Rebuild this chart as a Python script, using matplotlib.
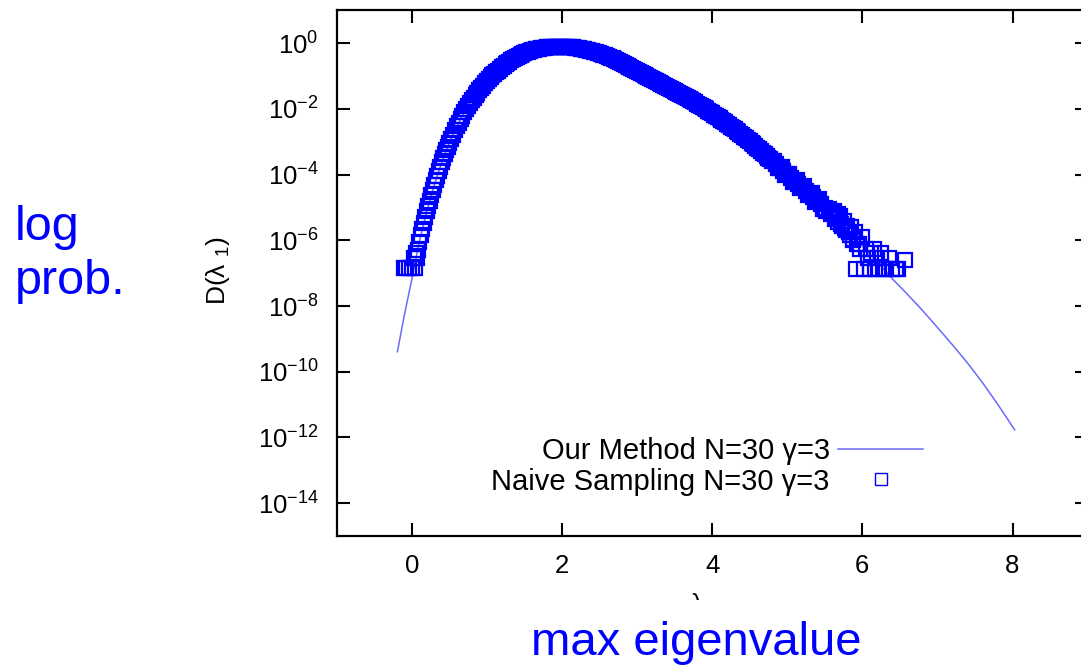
import numpy as np
import matplotlib
matplotlib.use('Agg')
import matplotlib.pyplot as plt
from matplotlib.transforms import Bbox

# "Our Method" curve: x and log10 of D(lambda_1)
method_x = [-0.19, -0.10, 0.00, 0.10, 0.20, 0.30, 0.40, 0.50, 0.60, 0.70, 0.80, 0.90,
            1.00, 1.10, 1.20, 1.30, 1.40, 1.50, 1.60, 1.70, 1.80, 1.90, 2.00, 2.20,
            2.40, 2.60, 2.80, 3.00, 3.20, 3.40, 3.60, 3.80, 4.00, 4.20, 4.40, 4.60,
            4.80, 5.00, 5.20, 5.40, 5.60, 5.80, 6.00, 6.20, 6.40, 6.60, 6.80, 7.00,
            7.20, 7.40, 7.60, 7.80, 8.03]
method_logd = [-9.39, -8.30, -7.20, -6.05, -5.12, -4.32, -3.63, -3.04, -2.53, -2.10, -1.74, -1.43,
               -1.16, -0.93, -0.73, -0.56, -0.42, -0.31, -0.22, -0.16, -0.12, -0.10, -0.10, -0.14,
               -0.24, -0.39, -0.60, -0.85, -1.10, -1.34, -1.58, -1.84, -2.13, -2.45, -2.80, -3.18,
               -3.58, -3.99, -4.39, -4.78, -5.22, -5.69, -6.17, -6.66, -7.17, -7.64, -8.13, -8.65,
               -9.18, -9.73, -10.33, -10.98, -11.77]

# "Naive Sampling" histogram points: x and log10 of D(lambda_1)
naive_x = [
    -0.10, -0.07, -0.03, 0.01, 0.05, 0.03, 0.07, 0.06, 0.08,
    0.10, 0.12, 0.14, 0.16, 0.18, 0.20, 0.22, 0.24, 0.26, 0.28, 0.30,
    0.32, 0.34, 0.36, 0.38, 0.40, 0.42, 0.44, 0.46, 0.48,
    0.500, 0.525, 0.550, 0.575, 0.600, 0.625, 0.650, 0.675, 0.700, 0.725,
    0.750, 0.775, 0.800, 0.825, 0.850, 0.875, 0.900, 0.925, 0.950, 0.975,
    1.000, 1.025, 1.050, 1.075, 1.100, 1.125, 1.150, 1.175, 1.200, 1.225,
    1.250, 1.275, 1.300, 1.325, 1.350, 1.375, 1.400, 1.425, 1.450, 1.475,
    1.500, 1.525, 1.550, 1.575, 1.600, 1.625, 1.650, 1.675, 1.700, 1.725,
    1.750, 1.775, 1.800, 1.825, 1.850, 1.875, 1.900, 1.925, 1.950, 1.975,
    2.000, 2.025, 2.050, 2.075, 2.100, 2.125, 2.150, 2.175, 2.200, 2.225,
    2.250, 2.275, 2.300, 2.325, 2.350, 2.375, 2.400, 2.425, 2.450, 2.475,
    2.500, 2.525, 2.550, 2.575, 2.600, 2.625, 2.650, 2.675, 2.700, 2.725,
    2.750, 2.775, 2.800, 2.825, 2.850, 2.875, 2.900, 2.925, 2.950, 2.975,
    3.000, 3.025, 3.050, 3.075, 3.100, 3.125, 3.150, 3.175, 3.200, 3.225,
    3.250, 3.275, 3.300, 3.325, 3.350, 3.375, 3.400, 3.425, 3.450, 3.475,
    3.500, 3.525, 3.550, 3.575, 3.600, 3.625, 3.650, 3.675, 3.700, 3.725,
    3.750, 3.775, 3.800, 3.825, 3.850, 3.875, 3.900, 3.925, 3.950, 3.975,
    4.000, 4.025, 4.050, 4.075, 4.100, 4.125, 4.150, 4.175, 4.200, 4.225,
    4.250, 4.275, 4.300, 4.325, 4.350, 4.375, 4.400, 4.425, 4.450, 4.475,
    4.500, 4.525, 4.550, 4.575, 4.600, 4.625, 4.650, 4.675, 4.700, 4.725,
    4.750, 4.775, 4.800, 4.825, 4.850, 4.875, 4.900, 4.925, 4.950, 4.975,
    5.000, 5.025, 5.050, 5.075, 5.100, 5.125, 5.150, 5.175, 5.200, 5.225,
    5.250, 5.275, 5.300, 5.325, 5.350, 5.375, 5.400, 5.425, 5.450, 5.475,
    5.50, 5.52, 5.55, 5.58, 5.60, 5.62, 5.63, 5.65, 5.67, 5.68,
    5.70, 5.72, 5.73, 5.75, 5.77, 5.78, 5.80, 5.82, 5.83, 5.85,
    5.87, 5.88, 5.90, 5.92, 5.93, 5.95, 5.97, 6.00, 6.02, 6.05,
    6.07, 6.10, 6.12, 6.15, 6.17, 6.20, 6.22, 6.25, 6.28, 6.32,
    6.35, 6.40, 6.45, 6.48, 6.57]
naive_logd = [
    -6.85, -6.85, -6.85, -6.85, -6.85, -6.55, -6.55, -6.40, -6.30,
    -6.05, -5.84, -5.64, -5.46, -5.28, -5.12, -4.95, -4.79, -4.63, -4.47, -4.32,
    -4.17, -4.03, -3.89, -3.76, -3.63, -3.50, -3.38, -3.26, -3.15,
    -3.04, -2.91, -2.78, -2.65, -2.53, -2.42, -2.31, -2.20, -2.10, -2.00,
    -1.91, -1.82, -1.74, -1.66, -1.58, -1.50, -1.43, -1.36, -1.29, -1.22,
    -1.16, -1.10, -1.04, -0.98, -0.93, -0.88, -0.83, -0.78, -0.73, -0.68,
    -0.64, -0.60, -0.56, -0.52, -0.49, -0.45, -0.42, -0.39, -0.36, -0.33,
    -0.31, -0.28, -0.26, -0.24, -0.22, -0.20, -0.19, -0.17, -0.16, -0.15,
    -0.14, -0.13, -0.12, -0.11, -0.11, -0.10, -0.10, -0.10, -0.10, -0.10,
    -0.10, -0.10, -0.10, -0.11, -0.11, -0.12, -0.12, -0.13, -0.14, -0.15,
    -0.16, -0.17, -0.19, -0.20, -0.21, -0.23, -0.24, -0.26, -0.28, -0.29,
    -0.31, -0.33, -0.35, -0.37, -0.39, -0.41, -0.44, -0.46, -0.49, -0.51,
    -0.54, -0.57, -0.60, -0.63, -0.66, -0.69, -0.72, -0.75, -0.78, -0.81,
    -0.85, -0.88, -0.91, -0.94, -0.97, -1.00, -1.04, -1.07, -1.10, -1.13,
    -1.16, -1.19, -1.22, -1.25, -1.28, -1.31, -1.34, -1.37, -1.40, -1.43,
    -1.46, -1.49, -1.52, -1.55, -1.58, -1.61, -1.64, -1.67, -1.71, -1.74,
    -1.77, -1.80, -1.84, -1.87, -1.91, -1.94, -1.98, -2.01, -2.05, -2.09,
    -2.13, -2.17, -2.21, -2.25, -2.29, -2.33, -2.37, -2.41, -2.45, -2.49,
    -2.54, -2.58, -2.62, -2.66, -2.71, -2.75, -2.80, -2.84, -2.89, -2.94,
    -2.99, -3.03, -3.08, -3.13, -3.18, -3.23, -3.28, -3.33, -3.38, -3.43,
    -3.48, -3.53, -3.58, -3.58, -3.68, -3.80, -3.79, -3.78, -3.89, -4.02,
    -3.99, -3.98, -4.09, -4.22, -4.19, -4.16, -4.29, -4.42, -4.39, -4.36,
    -4.49, -4.62, -4.58, -4.55, -4.68, -4.82, -4.78, -4.74, -4.90, -5.06,
    -5.00, -5.12, -5.05, -5.20, -5.15, -5.10, -5.35, -5.30, -5.20, -5.45,
    -5.25, -5.50, -5.55, -5.40, -5.62, -5.70, -5.55, -5.75, -5.85, -5.60,
    -5.95, -6.00, -5.75, -6.87, -6.10, -6.10, -6.25, -5.90, -6.87, -6.25,
    -6.55, -6.87, -6.40, -6.25, -6.87, -6.55, -6.87, -6.40, -6.87, -6.87,
    -6.55, -6.87, -6.87, -6.87, -6.59]

xtick_vals = [0, 2, 4, 6, 8]
ytick_exps = [0, -2, -4, -6, -8, -10, -12, -14]

method_label = 'Our Method N=30 \u03b3=3'
naive_label = 'Naive Sampling N=30 \u03b3=3'

plt.rcParams['font.family'] = ['Liberation Sans', 'DejaVu Sans']
plt.rcParams['mathtext.fontset'] = 'custom'
plt.rcParams['mathtext.rm'] = 'Liberation Sans'
plt.rcParams['mathtext.it'] = 'Liberation Sans:italic'
plt.rcParams['mathtext.bf'] = 'Liberation Sans:bold'

W, H = 1081, 668
fig = plt.figure(figsize=(W / 100, H / 100), dpi=100)
ax = fig.add_axes([336.6 / W, 1 - 536.0 / H, 751.0 / W, 525.6 / H])

ax.semilogy(method_x, 10.0 ** np.array(method_logd), color='#6a6aff', lw=1.1,
            label=method_label, zorder=2)
ax.semilogy(naive_x, 10.0 ** np.array(naive_logd), ls='none', marker='s',
            markersize=10.5, markerfacecolor='none', markeredgecolor='#0000ff',
            markeredgewidth=1.6, label=naive_label, zorder=3)

ax.set_xlim(-1, 9)
ax.set_ylim(1e-15, 1e1)
ax.set_xticks(xtick_vals)
ax.set_xticklabels([str(v) for v in xtick_vals])
ax.set_yticks([10.0 ** e for e in ytick_exps])
ax.set_yticklabels([r'$\mathregular{10^{%d}}$' % e for e in ytick_exps])
ax.yaxis.set_minor_locator(matplotlib.ticker.NullLocator())

for s in ax.spines.values():
    s.set_linewidth(1.6)
ax.tick_params(axis='both', which='major', direction='in', length=9.5, width=1.5,
               top=True, right=True, labelsize=18.5, colors='black')
ax.tick_params(axis='y', pad=13)
ax.tick_params(axis='x', pad=13)

leg = ax.legend(loc='center right', bbox_to_anchor=(923 / W, 1 - 466.5 / H),
                bbox_transform=fig.transFigure, frameon=False, markerfirst=False,
                fontsize=21, handlelength=2.9, handletextpad=0.3, labelspacing=0.08,
                borderpad=0, borderaxespad=0)
for h in leg.legend_handles:
    if h.get_marker() == 's':
        h.set_markersize(8)
        h.set_markeredgewidth(1.0)

fig.text(218 / W, 1 - 271 / H, 'D(\u03bb $_{1}$)', rotation=90, ha='center', va='center',
         fontsize=19)

# partially hidden x label
lam = fig.text(697 / W, 1 - 593 / H, '\u03bb', ha='center', va='top', fontsize=18)
lam.set_clip_box(Bbox([[0, H - 600], [W, H]]))
lam.set_clip_on(True)

fig.text(15 / W, 1 - 205 / H, 'log\nprob.', ha='left', va='top', fontsize=35,
         color='#0000ff', linespacing=1.25)
fig.text(696 / W, 1 - 655 / H, 'max eigenvalue', ha='center', va='baseline', fontsize=34,
         color='#0000ff')

fig.savefig('out.png', dpi=100)
